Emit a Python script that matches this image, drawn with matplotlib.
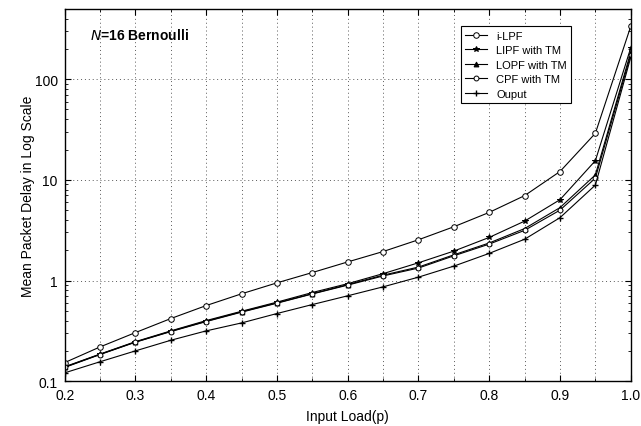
import matplotlib.pyplot as plt
import numpy as np

plt.rcParams['font.family'] = ['Liberation Sans', 'DejaVu Sans']

# input load values
load = [0.2, 0.25, 0.3, 0.35, 0.4, 0.45, 0.5, 0.55, 0.6, 0.65, 0.7, 0.75, 0.8, 0.85, 0.9, 0.95, 1.0]

# mean packet delay
ilpf = [0.153, 0.219, 0.304, 0.419, 0.564, 0.738, 0.948, 1.2, 1.53, 1.94, 2.54, 3.42, 4.75, 6.97, 12.1, 29, 335]
lipf = [0.139, 0.186, 0.247, 0.316, 0.40, 0.495, 0.61, 0.76, 0.93, 1.17, 1.50, 1.96, 2.68, 3.89, 6.35, 15.5, 205]
lopf = [0.138, 0.185, 0.245, 0.313, 0.394, 0.489, 0.60, 0.74, 0.91, 1.13, 1.36, 1.80, 2.36, 3.28, 5.3, 11.2, 185]
cpf = [0.137, 0.184, 0.244, 0.311, 0.391, 0.485, 0.595, 0.735, 0.90, 1.11, 1.33, 1.76, 2.30, 3.15, 5.0, 10.4, 175]
output = [0.121, 0.156, 0.2, 0.255, 0.316, 0.379, 0.47, 0.577, 0.705, 0.865, 1.08, 1.39, 1.86, 2.57, 4.21, 8.87, 165]

labels = ['i-LPF', 'LIPF with TM', 'LOPF with TM', 'CPF with TM', 'Ouput']

fig = plt.figure(figsize=(6.41, 4.27), dpi=100)
ax = fig.add_axes([0.101, 0.105, 0.883, 0.872])

lw = 0.8
ax.plot(load, ilpf, '-o', color='black', lw=lw, ms=4, mfc='white', mew=0.7, label=labels[0])
ax.plot(load, lipf, '-*', color='black', lw=lw, ms=4, mfc='black', mew=0.7, label=labels[1])
ax.plot(load, lopf, '-^', color='black', lw=lw, ms=3.5, mfc='black', mew=0.7, label=labels[2])
ax.plot(load, cpf, '-o', color='black', lw=lw, ms=3.5, mfc='white', mew=0.7, label=labels[3])
ax.plot(load, output, '-+', color='black', lw=lw, ms=5, mew=1.0, label=labels[4])

ax.set_yscale('log')
ax.set_xlim(0.2, 1.0)
ax.set_ylim(0.1, 500)
ax.set_xticks(np.arange(0.2, 1.01, 0.1))
ax.set_xticklabels(['0.2', '0.3', '0.4', '0.5', '0.6', '0.7', '0.8', '0.9', '1.0'])
ax.set_xticks(np.arange(0.25, 1.0, 0.1), minor=True)
ax.set_yticks([0.1, 1, 10, 100])
ax.set_yticklabels(['0.1', '1', '10', '100'])

ax.grid(True, which='major', axis='y', linestyle=(0, (1, 3)), color='0.35', lw=0.7)
ax.grid(True, which='both', axis='x', linestyle=(0, (1, 3)), color='0.35', lw=0.7)
ax.tick_params(which='both', direction='in', top=True, right=True, labelsize=10)
ax.tick_params(which='major', length=4, pad=5)
ax.tick_params(which='minor', length=2.5)
for s in ax.spines.values():
    s.set_linewidth(1.0)

ax.set_xlabel('Input Load(p)', fontsize=10, labelpad=5)
ax.set_ylabel('Mean Packet Delay in Log Scale', fontsize=10, labelpad=0)

ax.text(0.044, 0.93, r'$\bf{\it{N}}$' + '=16 Bernoulli', transform=ax.transAxes,
        fontsize=10, fontweight='bold', va='center', ha='left')

leg = ax.legend(loc='upper right', bbox_to_anchor=(0.905, 0.968), fontsize=8,
                fancybox=False, framealpha=1, edgecolor='black', handlelength=2.0,
                labelspacing=0.4, borderpad=0.4)
leg.get_frame().set_linewidth(0.8)

fig.savefig('out.png', dpi=100)
